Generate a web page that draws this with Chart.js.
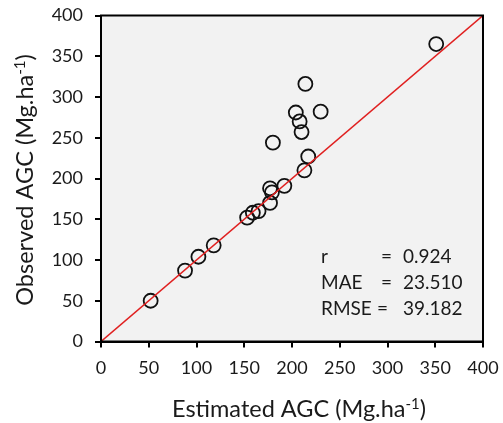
<!DOCTYPE html>
<html>
<head>
<meta charset="utf-8">
<script src="https://cdn.jsdelivr.net/npm/chart.js@4.4.0/dist/chart.umd.min.js"></script>
<style>
  html, body { margin: 0; padding: 0; background: #fff; }
  #wrap { width: 503px; height: 423px; }
</style>
</head>
<body>
<div id="wrap"><canvas id="agcChart" width="503" height="423"></canvas></div>
<script>
// estimated vs observed AGC (Mg/ha)
const estimated = [351, 214, 204, 230, 208, 210, 180, 217, 213, 192, 177, 179, 177, 165, 159, 153, 118, 102, 88, 52];
const observed  = [365, 316, 281, 282, 270, 257, 244, 227, 210, 191, 188, 183, 170, 160, 158, 152, 118, 104, 87, 50];

const axisTicks = [0, 50, 100, 150, 200, 250, 300, 350, 400];
const oneToOne = [0, 400];

const statNames = ['r', 'MAE', 'RMSE'];
const statValues = ['0.924', '23.510', '39.182'];

const FONT = 'Lato, "Open Sans", sans-serif';
const textColor = '#1a1a1a';

const points = estimated.map((e, i) => ({ x: e, y: observed[i] }));

// grey plot area + full frame + stats box + axis titles
const framePlugin = {
  id: 'frame',
  beforeDatasetsDraw(chart) {
    const { ctx, chartArea: a } = chart;
    ctx.save();
    ctx.fillStyle = '#f2f2f2';
    ctx.fillRect(a.left, a.top, a.right - a.left, a.bottom - a.top);
    ctx.restore();
  },
  afterDraw(chart) {
    const { ctx, chartArea: a } = chart;
    ctx.save();
    ctx.strokeStyle = '#000';
    ctx.lineWidth = 2;
    ctx.strokeRect(a.left, a.top, a.right - a.left, a.bottom - a.top);

    // stats
    ctx.fillStyle = textColor;
    ctx.font = '19px ' + FONT;
    ctx.textBaseline = 'middle';
    ctx.textAlign = 'left';
    statNames.forEach((n, i) => {
      const y = 257 + i * 26;
      ctx.fillText(n, 321, y);
      ctx.fillText('=', i === 2 ? 377 : 381, y);
      ctx.fillText(statValues[i], 403, y);
    });

    // axis titles with superscript
    drawTitle(ctx, 'Estimated AGC (Mg.ha', '-1', ')', 299, 417);
    ctx.translate(33, 180);
    ctx.rotate(-Math.PI / 2);
    drawTitle(ctx, 'Observed AGC (Mg.ha', '-1', ')', 0, 0);
    ctx.restore();
  }
};

function drawTitle(ctx, main, sup, tail, cx, baseY) {
  ctx.textBaseline = 'alphabetic';
  ctx.textAlign = 'left';
  const big = '23.5px ' + FONT, small = '15px ' + FONT;
  ctx.font = big;
  const w1 = ctx.measureText(main).width, w3 = ctx.measureText(tail).width;
  ctx.font = small;
  const w2 = ctx.measureText(sup).width;
  let x = cx - (w1 + w2 + w3) / 2;
  ctx.fillStyle = textColor;
  ctx.font = big;
  ctx.fillText(main, x, baseY);
  x += w1;
  ctx.font = small;
  ctx.fillText(sup, x, baseY - 8);
  x += w2;
  ctx.font = big;
  ctx.fillText(tail, x, baseY);
}

const axisCommon = {
  type: 'linear',
  min: 0,
  max: 400,
  afterBuildTicks(scale) { scale.ticks = axisTicks.map(v => ({ value: v })); },
  grid: {
    drawOnChartArea: false,
    drawTicks: true,
    tickLength: 6,
    color: '#000',
    lineWidth: 2
  },
  border: { display: true, color: '#000', width: 2 },
  ticks: {
    color: textColor,
    font: { family: FONT, size: 18 },
    maxRotation: 0,
    autoSkip: false
  }
};

new Chart(document.getElementById('agcChart'), {
  type: 'scatter',
  data: {
    datasets: [
      {
        type: 'line',
        data: oneToOne.map(v => ({ x: v, y: v })),
        borderColor: '#e02020',
        borderWidth: 1.5,
        pointRadius: 0,
        fill: false
      },
      {
        data: points,
        pointRadius: 7,
        pointBorderWidth: 1.8,
        pointBorderColor: '#111',
        pointBackgroundColor: 'rgba(0,0,0,0)'
      }
    ]
  },
  options: {
    responsive: false,
    animation: false,
    layout: { padding: { left: 0, top: 15.5, right: 20, bottom: 0 } },
    plugins: { legend: { display: false }, tooltip: { enabled: false } },
    scales: {
      x: Object.assign({}, axisCommon, {
        position: 'bottom',
        ticks: Object.assign({}, axisCommon.ticks, { padding: 10 }),
        // fixed height, and no label overhang so the frame lands where the original is
        afterFit(scale) {
          scale.height = 81.5;
          scale.paddingLeft = 0;
          scale.paddingRight = 0;
        }
      }),
      y: Object.assign({}, axisCommon, {
        position: 'left',
        ticks: Object.assign({}, axisCommon.ticks, { padding: 12 }),
        afterFit(scale) {
          scale.width = 101;
          scale.paddingTop = 0;
          scale.paddingBottom = 0;
        }
      })
    }
  },
  plugins: [framePlugin]
});
</script>
</body>
</html>
